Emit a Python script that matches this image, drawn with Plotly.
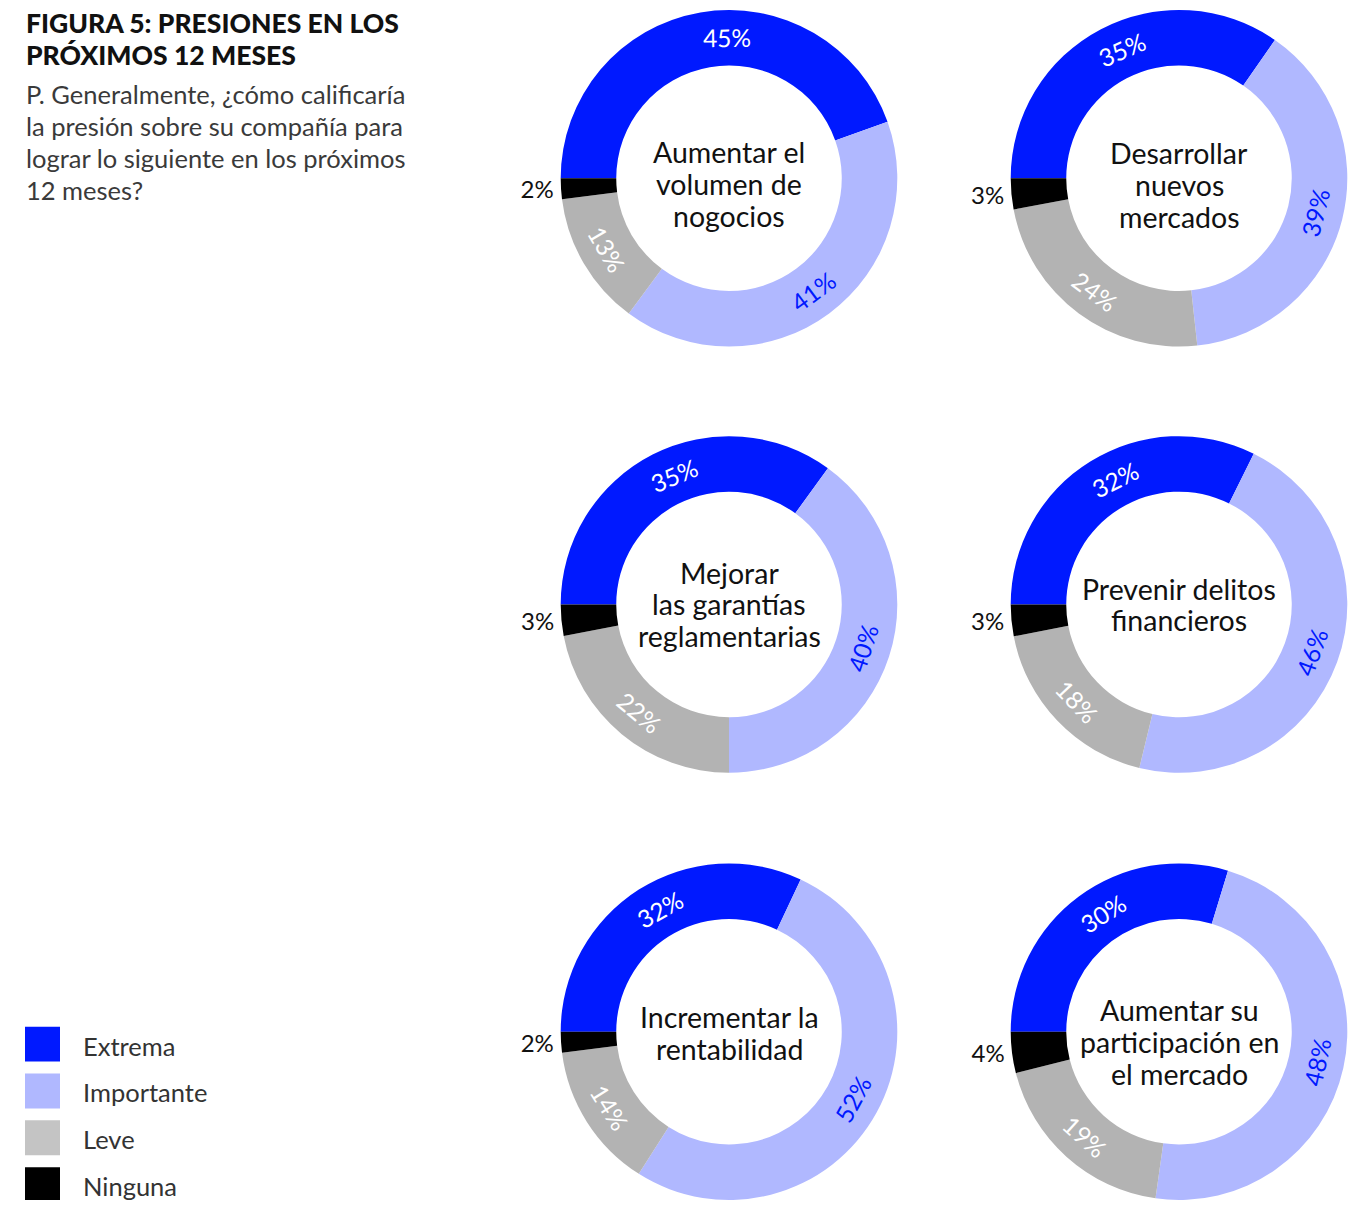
import math
import plotly.graph_objects as go

# Response categories and colours
categories = ["Extrema", "Importante", "Leve", "Ninguna"]
slice_colors = ["#0019ff", "#b0b8ff", "#b3b3b3", "#000000"]
legend_colors = ["#0019ff", "#b0b8ff", "#c4c4c4", "#000000"]
label_colors = ["#ffffff", "#0019ff", "#ffffff", "#111111"]

# One donut per objective: share of respondents (%) per category
objectives = [
    ["Aumentar el", "volumen de", "nogocios"],
    ["Desarrollar", "nuevos", "mercados"],
    ["Mejorar", "las garantías", "reglamentarias"],
    ["Prevenir delitos", "financieros"],
    ["Incrementar la", "rentabilidad"],
    ["Aumentar su", "participación en", "el mercado"],
]
vol_negocios = [45, 41, 13, 2]
nuevos_mercados = [35, 39, 24, 3]
garantias = [35, 40, 22, 3]
delitos = [32, 46, 18, 3]
rentabilidad = [32, 52, 14, 2]
participacion = [30, 48, 19, 4]
series = [vol_negocios, nuevos_mercados, garantias, delitos, rentabilidad, participacion]

W, H = 1366, 1205
FONT = "Lato"

# grid of donut centres (pixels), outer radius, hole fraction
col_x = [729, 1179]
row_y = [179, 607, 1036]
R = 169
HOLE = 0.67
LABEL_R = R * (1 + HOLE) / 2
START = -90  # first slice starts at 9 o'clock
# small vertical nudges of the centre captions
caption_shift = [6, 7, 0, 0, 1, 10]
# the label of the top slice sits a little clockwise of its mid-angle
first_label_nudge = [9, 4, 4, 5, 3, 4]


def px_x(x):
    return min(max(x / W, 0.0), 1.0)


def px_y(y):
    return min(max(1 - y / H, 0.0), 1.0)


annotations = []
fig = go.Figure()
for i, (caption, vals) in enumerate(zip(objectives, series)):
    cx = col_x[i % 2]
    cy = row_y[i // 2]
    # the smallest category is labelled outside the ring by the pie itself
    outside = [""] * (len(vals) - 1) + [f"{vals[-1]}%"]
    fig.add_trace(go.Pie(
        labels=categories,
        values=vals,
        text=outside,
        textinfo="text",
        hovertext=[f"{v}%" for v in vals],
        hoverinfo="label+text",
        sort=False,
        direction="clockwise",
        rotation=START,
        hole=HOLE,
        marker=dict(colors=slice_colors, line=dict(width=0)),
        textposition="outside",
        outsidetextfont=dict(family=FONT, size=24, color="#111111"),
        domain=dict(x=[px_x(cx - R), px_x(cx + R)],
                    y=[px_y(cy + R), px_y(cy - R)]),
        showlegend=False,
    ))

    # tangential value labels inside the ring, placed at each slice's mid-angle
    total = sum(vals)
    acc = 0.0
    for k, v in enumerate(vals[:-1]):
        mid = START + 360 * (acc + v / 2) / total
        if k == 0:
            mid += first_label_nudge[i]
        acc += v
        rad = math.radians(mid)
        lx = cx + LABEL_R * math.sin(rad)
        ly = cy - LABEL_R * math.cos(rad)
        a = ((mid + 180) % 360) - 180
        if a > 90:
            a -= 180
        elif a < -90:
            a += 180
        annotations.append(dict(
            text=f"{v}%", x=px_x(lx), y=px_y(ly), xref="paper", yref="paper",
            xanchor="center", yanchor="middle", textangle=a, showarrow=False,
            font=dict(family=FONT, size=24.5, color=label_colors[k])))

    # caption in the hole
    n = len(caption)
    for j, line in enumerate(caption):
        yy = cy + caption_shift[i] + (j - (n - 1) / 2) * 32
        annotations.append(dict(
            text=line, x=px_x(cx), y=px_y(yy), xref="paper", yref="paper",
            xanchor="center", yanchor="middle", showarrow=False,
            font=dict(family=FONT, size=28.5, color="#111111")))

# heading
title_lines = ["FIGURA 5: PRESIONES EN LOS", "PRÓXIMOS 12 MESES"]
for j, line in enumerate(title_lines):
    annotations.append(dict(
        text=line, x=px_x(24), y=px_y(23 + 32 * j),
        xref="paper", yref="paper", xanchor="left", yanchor="middle",
        showarrow=False,
        font=dict(family=FONT, size=26.5, weight=900, color="#111111")))

subtitle_lines = [
    "P. Generalmente, ¿cómo calificaría",
    "la presión sobre su compañía para",
    "lograr lo siguiente en los próximos",
    "12 meses?",
]
for j, line in enumerate(subtitle_lines):
    annotations.append(dict(
        text=line, x=px_x(24), y=px_y(94.5 + 32 * j),
        xref="paper", yref="paper", xanchor="left", yanchor="middle",
        showarrow=False, font=dict(family=FONT, size=25.5, color="#3a3a3a")))

# legend built from square swatches and labels
shapes = []
for k, (cat, col) in enumerate(zip(categories, legend_colors)):
    top = 1031 + k * 47
    shapes.append(dict(type="rect", xref="paper", yref="paper",
                       x0=px_x(25), x1=px_x(60), y0=px_y(top + 35), y1=px_y(top),
                       fillcolor=col, line=dict(width=0)))
    annotations.append(dict(text=cat, x=px_x(81), y=px_y(top + 19),
                            xref="paper", yref="paper", xanchor="left",
                            yanchor="middle", showarrow=False,
                            font=dict(family=FONT, size=25.5, color="#333333")))

fig.update_layout(
    width=W, height=H,
    margin=dict(l=0, r=0, t=0, b=0),
    paper_bgcolor="white",
    plot_bgcolor="white",
    annotations=annotations,
    shapes=shapes,
    font=dict(family=FONT),
)

fig.write_html("out.html")
